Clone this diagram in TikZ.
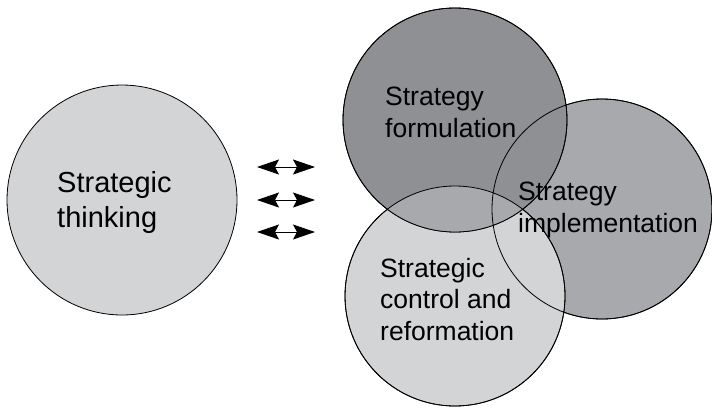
\documentclass[tikz,border=0pt]{standalone}
\usepackage{fontspec}
\setmainfont{Liberation Sans}
\usetikzlibrary{arrows.meta}
\usetikzlibrary{positioning}

\definecolor{darkgrey}{RGB}{143,144,148}
\definecolor{midgrey}{RGB}{168,169,173}
\definecolor{lightgrey}{RGB}{211,212,214}

\tikzset{
  disc/.style={circle,draw,line width=0.8pt,inner sep=0pt},
  lbl/.style={anchor=base west,inner sep=0pt,align=left,font=\fontsize{26.5}{31.5}\selectfont},
  head/.tip={Stealth[length=22pt,width=15pt,inset=4pt]},
  link/.style={line width=1pt,head-head}
}

\begin{document}
\begin{tikzpicture}[x=1pt,y=-1pt]
  \useasboundingbox[fill=white] (0,0) rectangle (712,408);
  %left
  \node[disc,fill=lightgrey,minimum size=230pt] (think) at (122,200) {};
  \node[lbl,at=(think.center),shift={(-65,27)},font=\fontsize{29}{35}\selectfont] (thinktxt) {Strategic\\thinking};

  %right
  \node[disc,fill=midgrey,minimum size=220pt] (impl) at (602,209) {};
  \node[disc,fill=lightgrey,minimum size=220pt] (ctrl) at (455,296) {};
  \node[disc,fill=darkgrey,minimum size=224pt] (form) at (455,120) {};
  \begin{scope}
    \clip (form.center) circle (112);
    \fill[midgrey] (ctrl.center) circle (110);
  \end{scope}
  \draw[line width=0.8pt] (impl.center) circle (110) (ctrl.center) circle (110) (form.center) circle (112);
  \node[lbl,at=(form.center),shift={(-70,17)}] (formtxt) {Strategy\\formulation};
  \node[lbl,at=(impl.center),shift={(-84,23)}] (impltxt) {Strategy\\implementation};
  \node[lbl,at=(ctrl.center),shift={(-75,44)}] (ctrltxt) {Strategic\\control and\\reformation};

  %arrows
  \foreach \y/\n in {167/1,200/2,232/3}{
    \coordinate (al\n) at (257,\y);
    \coordinate (ar\n) at (315,\y);
    \draw[link] (al\n) -- (ar\n);
  }
\end{tikzpicture}
\end{document}
